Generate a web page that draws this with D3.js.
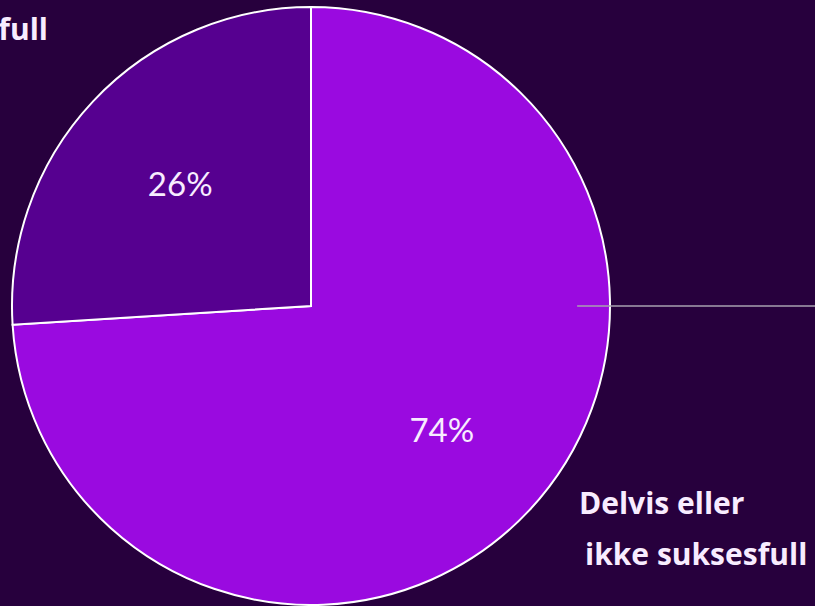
<!DOCTYPE html>
<html>
<head>
<meta charset="utf-8">
<script src="https://cdn.jsdelivr.net/npm/d3@7"></script>
<style>
  html, body { margin: 0; padding: 0; background: #27003d; overflow: hidden; }
</style>
</head>
<body>
<script>
// chart data
var categories = ["Delvis eller ikke suksesfull", "Suksesfull"];
var values = [74, 26];
var valueLabels = ["74%", "26%"];
var colors = ["#9a0ae0", "#560090"];

var width = 815, height = 606;
var cx = 311, cy = 306, radius = 299;

var svg = d3.select("body").append("svg")
  .attr("width", width)
  .attr("height", height);

svg.append("rect")
  .attr("width", width)
  .attr("height", height)
  .attr("fill", "#27003d");

var pie = d3.pie().sort(null).value(function(d) { return d; });
var arc = d3.arc().innerRadius(0).outerRadius(radius);
var labelArc = d3.arc().innerRadius(radius * 0.6).outerRadius(radius * 0.6);

var g = svg.append("g").attr("transform", "translate(" + cx + "," + cy + ")");
var arcs = pie(values);

g.selectAll("path")
  .data(arcs)
  .enter().append("path")
    .attr("d", arc)
    .attr("fill", function(d, i) { return colors[i]; })
    .attr("stroke", "#ffffff")
    .attr("stroke-width", 2);

g.selectAll("text.pct")
  .data(arcs)
  .enter().append("text")
    .attr("class", "pct")
    .attr("transform", function(d) { return "translate(" + labelArc.centroid(d) + ")"; })
    .attr("text-anchor", "middle")
    .attr("dy", "0.4em")
    .attr("font-family", "Lato, 'Open Sans', sans-serif")
    .attr("font-size", 33)
    .attr("fill", "#f8ecff")
    .text(function(d, i) { return valueLabels[i]; });

// leader line for the big slice
g.append("line")
  .attr("x1", radius * 0.89).attr("y1", 0)
  .attr("x2", width - cx).attr("y2", 0)
  .attr("stroke", "#a8a0b0")
  .attr("stroke-width", 1.5);

// category labels
var labelFont = "'Open Sans', sans-serif";
var big = svg.append("text")
  .attr("font-family", labelFont)
  .attr("font-weight", "bold")
  .attr("font-size", 30)
  .attr("fill", "#f8ecff");
big.append("tspan").attr("x", 579).attr("y", 514).text("Delvis eller");
big.append("tspan").attr("x", 585).attr("y", 565).text("ikke suksesfull");

svg.append("text")
  .attr("x", 48).attr("y", 40)
  .attr("text-anchor", "end")
  .attr("font-family", labelFont)
  .attr("font-weight", "bold")
  .attr("font-size", 30)
  .attr("fill", "#f8ecff")
  .text(categories[1]);
</script>
</body>
</html>
